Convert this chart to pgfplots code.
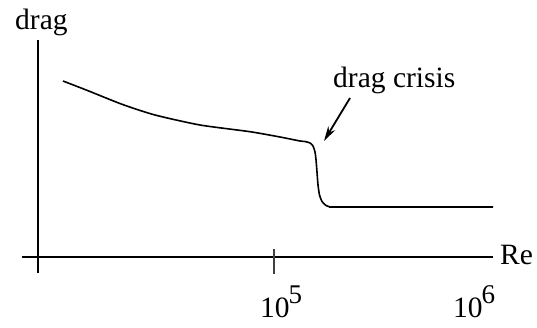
\documentclass[border=0pt]{standalone}
\usepackage{pgfplots}
\pgfplotsset{compat=1.18}
\usepackage{fontspec}
\setmainfont{Liberation Serif}
\usetikzlibrary{arrows.meta}
\newcommand{\decexp}[1]{\kern-1pt\raisebox{14pt}{\fontsize{27}{27}\selectfont #1}}
\begin{document}
\fontsize{29.5}{32}\selectfont
\begin{tikzpicture}
\path[use as bounding box] (0pt,0pt) rectangle (537pt,-328pt);
\begin{axis}[
  at={(38pt,-257pt)}, anchor=south west,
  scale only axis, width=455pt, height=217pt,
  xmode=log, xmin=6076, xmax=1.3456e6, ymin=0, ymax=2.17,
  hide axis, clip=false]
% drag versus Reynolds number (schematic)
\addplot[black, line width=1.6pt, smooth, tension=0.4, line join=round] coordinates {
  (8172,1.76) (10995,1.663) (16470,1.527) (24360,1.42) (41560,1.32)
  (75210,1.253) (107400,1.20) (136200,1.16) (144500,1.155) (153300,1.14)
  (158900,1.11) (162700,1.05) (164700,0.97) (166600,0.85) (168600,0.72)
  (171600,0.62) (176800,0.555) (185400,0.515) (196700,0.50) (218900,0.50)
  (1.3456e6,0.50)
};
% axes
\draw[line width=2.8pt] (axis cs:6076,2.17) -- (axis cs:6076,-0.16);
\draw[line width=2.8pt] (axis cs:5023,0) -- (axis cs:1.3456e6,0);
\draw[line width=2.2pt, black!75] (axis cs:1e5,0.08) -- (axis cs:1e5,-0.17);
% annotation arrow
\draw[-{Stealth[length=15pt,width=8pt]}, line width=1.8pt]
  (axis cs:246500,1.59) -- (axis cs:181000,1.16);
\end{axis}
\node[anchor=base west, inner sep=0] at (15pt,-30pt) {drag};
\node[anchor=base west, inner sep=0] at (500pt,-265pt) {Re};
\node[anchor=base west, inner sep=0] at (333pt,-88pt) {drag crisis};
\node[anchor=base west, inner sep=0] at (260pt,-317pt) {10\decexp{5}};
\node[anchor=base west, inner sep=0] at (453pt,-317pt) {10\decexp{6}};
\end{tikzpicture}
\end{document}
